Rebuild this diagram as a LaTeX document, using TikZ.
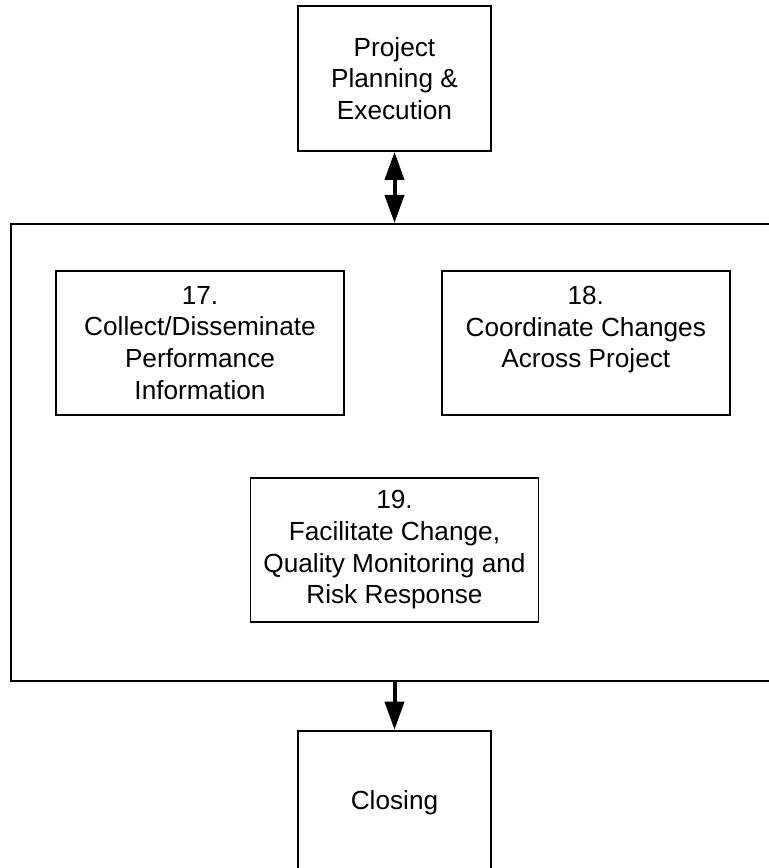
\documentclass[tikz,border=0pt]{standalone}
\usepackage{fontspec}
\setmainfont{Liberation Sans}
\usetikzlibrary{arrows.meta,positioning}

\begin{document}
\begin{tikzpicture}[>={Triangle[length=14pt,width=9.5pt]}, font=\fontsize{13.1pt}{15.8pt}\selectfont]
      \tikzstyle{box}=[draw=black,line width=0.9pt,align=center,inner sep=0pt,minimum width=96.5pt,minimum height=72.5pt]
      \tikzstyle{task}=[box,minimum width=144pt,minimum height=72pt]
      \tikzstyle{link}=[line width=2pt]

      \useasboundingbox (0,0) rectangle (384pt,-434pt);

      \node[box]  (P)   at (197.25pt,-39.25pt)                    {Project\\Planning \&\\Execution};
      \node[box,minimum width=383.5pt,minimum height=228.5pt] (M) [below=35.5pt of P] {};
      \node[task] (T17) [below right=23.5pt and 22.5pt of M.north west] {17.\\Collect/Disseminate\\Performance\\Information};
      \node[task] (T18) [right=48pt of T17]                     {18.\\Coordinate Changes\\Across Project\\\mbox{}};
      \node[task] (T19) [below=127pt of M.north]                {19.\\Facilitate Change,\\Quality Monitoring and\\Risk Response};
      \node[box]  (C)   [below=24pt of M]                       {Closing};

      \draw[link,<->] (P) -- (M);
      \draw[link,->]  (M) -- (C);
\end{tikzpicture}
\end{document}
